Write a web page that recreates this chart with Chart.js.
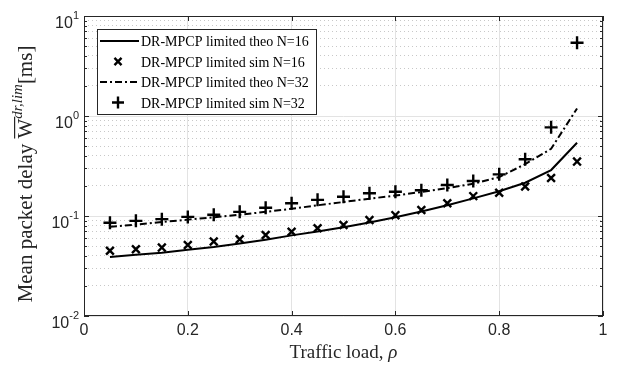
<!DOCTYPE html>
<html>
<head>
<meta charset="utf-8">
<script src="https://cdn.jsdelivr.net/npm/chart.js@4/dist/chart.umd.min.js"></script>
<style>
  html, body { margin: 0; padding: 0; background: #fff; }
</style>
</head>
<body>
<canvas id="delayChart" width="619" height="367"></canvas>
<script>
// traffic load values (x) and the four series
var load = [0.05, 0.1, 0.15, 0.2, 0.25, 0.3, 0.35, 0.4, 0.45, 0.5, 0.55, 0.6, 0.65, 0.7, 0.75, 0.8, 0.85, 0.9, 0.95];
var theo16 = [0.039, 0.041, 0.043, 0.046, 0.049, 0.053, 0.058, 0.064, 0.070, 0.077, 0.086, 0.097, 0.111, 0.128, 0.150, 0.177, 0.215, 0.288, 0.54];
var sim16 = [0.045, 0.0465, 0.0483, 0.0513, 0.0555, 0.0586, 0.0646, 0.0697, 0.0755, 0.0813, 0.091, 0.102, 0.115, 0.134, 0.158, 0.171, 0.197, 0.24, 0.35];
var theo32 = [0.078, 0.082, 0.087, 0.092, 0.097, 0.103, 0.110, 0.118, 0.128, 0.138, 0.149, 0.160, 0.174, 0.190, 0.210, 0.245, 0.33, 0.47, 1.19];
var sim32 = [0.0857, 0.0894, 0.093, 0.098, 0.103, 0.110, 0.121, 0.134, 0.145, 0.156, 0.169, 0.175, 0.181, 0.204, 0.224, 0.261, 0.369, 0.77, 5.4];

var seriesLabels = ["DR-MPCP limited theo N=16", "DR-MPCP limited sim N=16", "DR-MPCP limited theo N=32", "DR-MPCP limited sim N=32"];
var xTickStep = 0.2;
var yDecades = [0.01, 0.1, 1, 10];

var tickColor = '#262626';
var sansFont = '"Liberation Sans", Arial, sans-serif';
var serifFont = '"Liberation Serif", "Times New Roman", serif';

function pts(ys) {
    return load.map(function (x, i) { return { x: x, y: ys[i] }; });
}

function isDecade(v) {
    var l = Math.log10(v);
    return Math.abs(l - Math.round(l)) < 1e-6;
}

// every 1..9 x 10^n between the decades, for grid lines and minor ticks
function logTicks() {
    var out = [];
    for (var i = 0; i < yDecades.length - 1; i++) {
        for (var k = 1; k <= 9; k++) out.push({ value: yDecades[i] * k, major: k === 1 });
    }
    out.push({ value: yDecades[yDecades.length - 1], major: true });
    return out;
}

// frame, inward ticks, y labels with exponents, axis titles and the legend box
var decorations = {
    id: 'decorations',
    afterDraw: function (chart) {
        var ctx = chart.ctx;
        var a = chart.chartArea;
        var xs = chart.scales.x, ys = chart.scales.y;
        ctx.save();

        // box
        ctx.strokeStyle = tickColor;
        ctx.lineWidth = 1;
        ctx.strokeRect(a.left + 0.5, a.top + 0.5, a.right - a.left - 1, a.bottom - a.top - 1);

        // inward ticks
        ctx.beginPath();
        xs.ticks.forEach(function (t) {
            var px = Math.round(xs.getPixelForValue(t.value)) + 0.5;
            ctx.moveTo(px, a.bottom); ctx.lineTo(px, a.bottom - 5);
            ctx.moveTo(px, a.top); ctx.lineTo(px, a.top + 5);
        });
        ys.ticks.forEach(function (t) {
            var len = isDecade(t.value) ? 5 : 3;
            var py = Math.round(ys.getPixelForValue(t.value)) + 0.5;
            ctx.moveTo(a.left, py); ctx.lineTo(a.left + len, py);
            ctx.moveTo(a.right, py); ctx.lineTo(a.right - len, py);
        });
        ctx.stroke();

        // y tick labels 10^n
        ctx.fillStyle = tickColor;
        ctx.textBaseline = 'alphabetic';
        ctx.textAlign = 'left';
        yDecades.forEach(function (d) {
            var py = ys.getPixelForValue(d);
            var e = String(Math.round(Math.log10(d)));
            ctx.font = '11px ' + sansFont;
            var ew = ctx.measureText(e).width;
            ctx.font = '16px ' + sansFont;
            var bw = ctx.measureText('10').width;
            var right = 79;
            ctx.fillText('10', right - ew - bw, py + 11.5);
            ctx.font = '11px ' + sansFont;
            ctx.fillText(e, right - ew, py + 2.5);
        });

        // x title
        ctx.fillStyle = tickColor;
        var xt1 = 'Traffic load, ';
        ctx.font = '19px ' + serifFont;
        var w1 = ctx.measureText(xt1).width;
        ctx.font = 'italic 19px ' + serifFont;
        var w2 = ctx.measureText('\u03c1').width;
        var cx = (a.left + a.right) / 2;
        var sx = cx - (w1 + w2) / 2;
        ctx.font = '19px ' + serifFont;
        ctx.fillText(xt1, sx, 358);
        ctx.font = 'italic 19px ' + serifFont;
        ctx.fillText('\u03c1', sx + w1, 358);

        // y title, rotated
        ctx.save();
        ctx.translate(32, 174);
        ctx.rotate(-Math.PI / 2);
        var fBase = '21px ' + serifFont;
        var fSup = 'italic 15px ' + serifFont;
        var parts = [
            { t: 'Mean packet delay ', f: fBase, dy: 0 },
            { t: 'W', f: fBase, dy: 0, bar: true },
            { t: 'dr,lim', f: fSup, dy: -10 },
            { t: '[ms]', f: fBase, dy: 0 }
        ];
        var total = 0;
        parts.forEach(function (p) { ctx.font = p.f; p.w = ctx.measureText(p.t).width; total += p.w; });
        var px0 = -total / 2;
        parts.forEach(function (p) {
            ctx.font = p.f;
            ctx.fillText(p.t, px0, p.dy);
            if (p.bar) {
                ctx.fillRect(px0, -18, p.w + 2, 1.2);
            }
            px0 += p.w;
        });
        ctx.restore();

        // legend
        var lx = 97, ly = 29, lw = 219, lh = 85;
        ctx.fillStyle = '#fff';
        ctx.fillRect(lx, ly, lw, lh);
        ctx.strokeStyle = '#262626';
        ctx.lineWidth = 1;
        ctx.strokeRect(lx + 0.5, ly + 0.5, lw, lh);
        var rowY = [41, 61.5, 82, 102.5];
        chart.data.datasets.forEach(function (ds, i) {
            var y = rowY[i];
            ctx.strokeStyle = ds.borderColor;
            ctx.fillStyle = ds.borderColor;
            ctx.save();
            if (ds.showLine) {
                ctx.lineWidth = ds.borderWidth;
                ctx.setLineDash(ds.borderDash || []);
                ctx.beginPath();
                ctx.moveTo(100, y); ctx.lineTo(139, y);
                ctx.stroke();
            } else {
                ctx.lineWidth = ds.pointBorderWidth;
                Chart.helpers.drawPoint(ctx, {
                    pointStyle: ds.pointStyle, radius: ds.pointRadius - 0.5,
                    borderWidth: ds.pointBorderWidth, rotation: 0
                }, 118, y);
            }
            ctx.restore();
            ctx.fillStyle = '#000';
            ctx.font = '14px ' + serifFont;
            ctx.fillText(ds.label, 141, y + 5);
        });

        ctx.restore();
    }
};

var ctx = document.getElementById('delayChart');
var delayChart = new Chart(ctx, {
    type: 'scatter',
    data: {
        datasets: [{
            label: seriesLabels[0],
            data: pts(theo16),
            showLine: true,
            borderColor: '#000',
            backgroundColor: '#000',
            borderWidth: 2,
            pointRadius: 0
        }, {
            label: seriesLabels[1],
            data: pts(sim16),
            showLine: false,
            borderColor: '#000',
            backgroundColor: '#000',
            pointStyle: 'crossRot',
            pointRadius: 5.5,
            pointBorderWidth: 2.4
        }, {
            label: seriesLabels[2],
            data: pts(theo32),
            showLine: true,
            borderColor: '#000',
            backgroundColor: '#000',
            borderWidth: 2,
            borderDash: [7, 3, 2, 3],
            pointRadius: 0
        }, {
            label: seriesLabels[3],
            data: pts(sim32),
            showLine: false,
            borderColor: '#000',
            backgroundColor: '#000',
            pointStyle: 'cross',
            pointRadius: 6.5,
            pointBorderWidth: 2.4
        }]
    },
    options: {
        responsive: false,
        animation: false,
        devicePixelRatio: 1,
        layout: { padding: { left: 0, right: 16, top: 16, bottom: 0 } },
        plugins: {
            legend: { display: false },
            tooltip: { enabled: false }
        },
        scales: {
            x: {
                type: 'linear',
                min: 0,
                max: 1,
                afterFit: function (s) { s.height = 51; },
                ticks: {
                    stepSize: xTickStep,
                    color: tickColor,
                    padding: 5,
                    font: { family: sansFont, size: 16 },
                    callback: function (v) {
                        if (Math.abs(v) < 1e-9) return '0';
                        if (Math.abs(v - 1) < 1e-9) return '1';
                        return v.toFixed(1);
                    }
                },
                grid: { color: '#e3e3e3', drawTicks: false },
                border: { display: false }
            },
            y: {
                type: 'logarithmic',
                min: 0.01,
                max: 10,
                afterBuildTicks: function (s) { s.ticks = logTicks(); },
                afterFit: function (s) { s.width = 84; },
                ticks: { display: false, autoSkip: false },
                grid: {
                    drawTicks: false,
                    color: function (c) {
                        return c.tick && isDecade(c.tick.value) ? '#e3e3e3' : '#c8c8c8';
                    }
                },
                border: {
                    display: false,
                    dash: function (c) {
                        return c.tick && isDecade(c.tick.value) ? [] : [1, 3];
                    }
                }
            }
        }
    },
    plugins: [decorations]
});
</script>
</body>
</html>
